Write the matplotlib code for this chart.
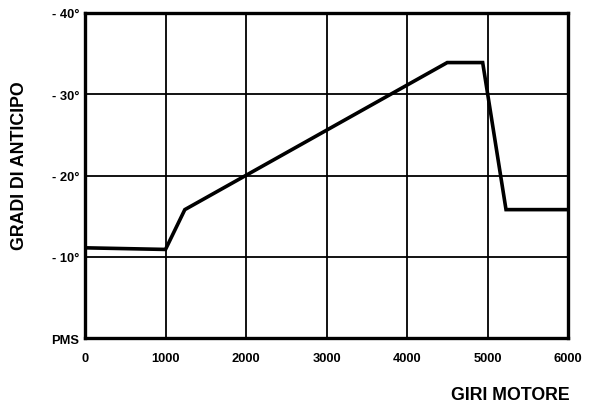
import matplotlib
matplotlib.use("Agg")
import matplotlib.pyplot as plt

# Ignition advance curve (degrees before TDC) vs engine speed
rpm = [0, 1000, 1240, 4500, 4940, 5230, 6000]
advance = [-11.1, -10.9, -15.8, -33.9, -33.9, -15.8, -15.8]

x_ticks = [0, 1000, 2000, 3000, 4000, 5000, 6000]
x_labels = ["0", "1000", "2000", "3000", "4000", "5000", "6000"]
y_ticks = [0, -10, -20, -30, -40]
y_labels = ["PMS", "- 10°", "- 20°", "- 30°", "- 40°"]

plt.rcParams["font.family"] = ["Liberation Sans", "DejaVu Sans"]

fig = plt.figure(figsize=(5.91, 4.06), dpi=100)
ax = fig.add_axes([85 / 591, 1 - 339 / 406, 483 / 591, 325 / 406])

ax.plot(rpm, advance, color="black", lw=2.6, solid_joinstyle="miter", zorder=3)

ax.set_xlim(0, 6000)
ax.set_ylim(0, -40)
ax.set_xticks(x_ticks)
ax.set_xticklabels(x_labels, fontsize=9.3, fontweight="bold")
ax.set_yticks(y_ticks)
ax.set_yticklabels(y_labels, fontsize=9.3, fontweight="bold")
ax.tick_params(length=0, pad=4)
ax.tick_params(axis="x", pad=10)

ax.grid(True, color="black", lw=1.3)
for s in ax.spines.values():
    s.set_linewidth(2.4)
    s.set_color("black")

fig.text(20 / 591, 1 - 166 / 406, "GRADI DI ANTICIPO", rotation=90,
         ha="center", va="center", fontsize=12.8, fontweight="bold")
fig.text(510 / 591, 1 - 396 / 406, "GIRI MOTORE",
         ha="center", va="center", fontsize=12.8, fontweight="bold")

fig.savefig("out.png", dpi=100)
